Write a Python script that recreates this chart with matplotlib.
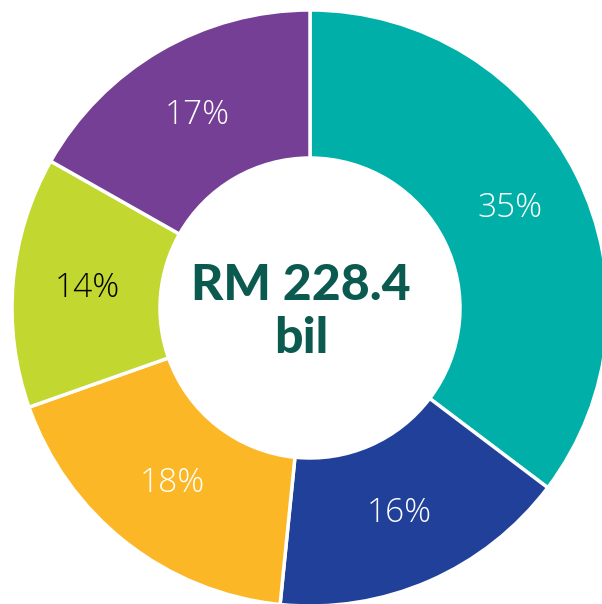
import matplotlib.pyplot as plt

shares = [35.3, 16.3, 18.0, 13.6, 16.8]
labels = ['35%', '16%', '18%', '14%', '17%']
colors = ['#00B0A8', '#21409A', '#FBB726', '#C2D72F', '#763F96']
label_colors = ['white', 'white', 'white', 'black', 'white']
centre_text = 'RM 228.4\nbil'

fig = plt.figure(figsize=(6.02, 6.04), dpi=100)
ax = fig.add_axes([0, 0, 1, 1])

# pixel-like coordinates so the ring can be cropped on the right like the original
wedges, texts = ax.pie(shares, labels=labels, colors=colors, startangle=90, counterclock=False,
                       radius=298, center=(310, 296), labeldistance=0.75,
                       wedgeprops=dict(width=148, edgecolor='white', linewidth=2.5),
                       textprops=dict(family='Open Sans', fontweight=300, fontsize=24))
for t, c in zip(texts, label_colors):
    t.set_color(c)
    t.set_horizontalalignment('center')
    t.set_verticalalignment('center')

ax.text(301, 292, centre_text, ha='center', va='center', fontsize=36, fontweight='black',
        family='Lato', color='#0B5A4F', linespacing=1.2)

ax.set_xlim(0, 602)
ax.set_ylim(0, 604)
ax.set_aspect('equal')
ax.axis('off')

fig.savefig('out.png', dpi=100)
